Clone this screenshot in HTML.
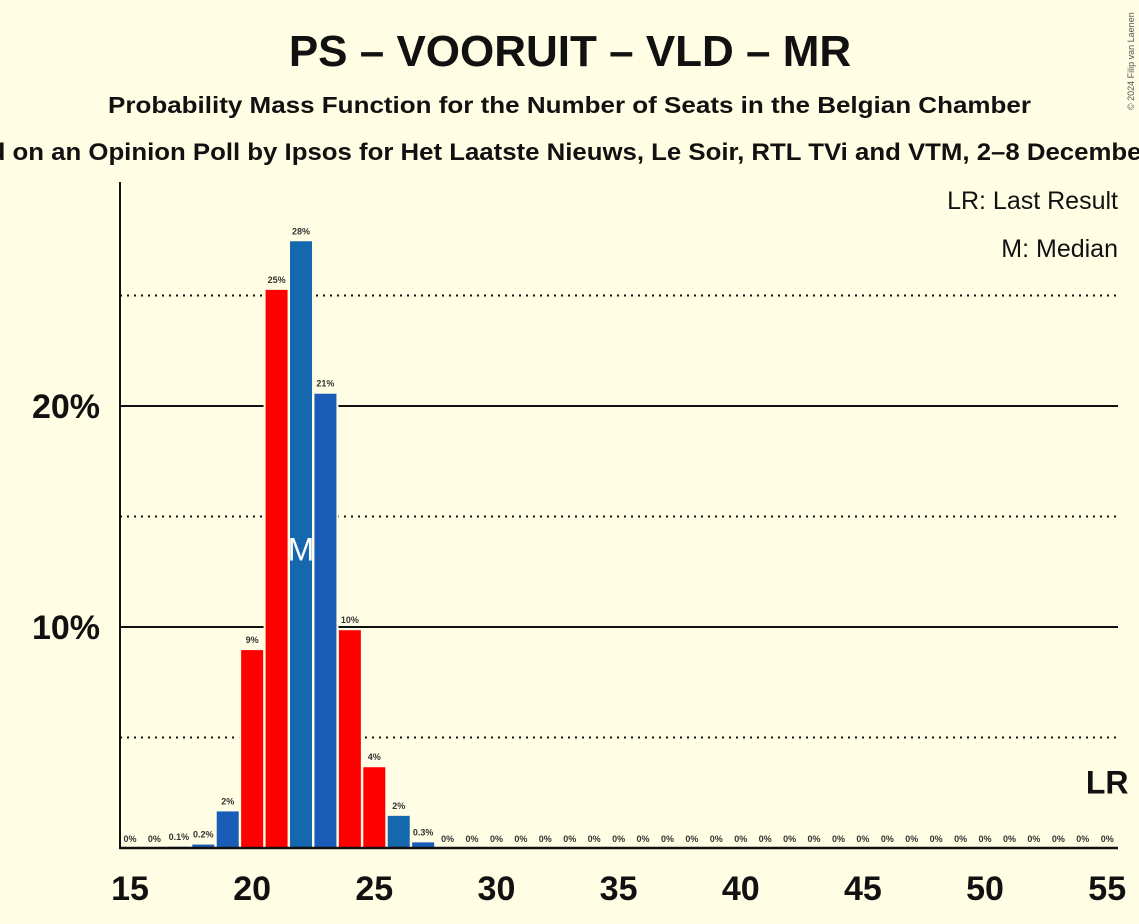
<!DOCTYPE html>
<html><head><meta charset="utf-8"><style>
body{margin:0;background:#FFFDE3;}
svg{display:block;font-family:"Liberation Sans",sans-serif;}
</style></head><body>
<svg width="1139" height="924" id="c">
<rect width="1139" height="924" fill="#FFFDE3"/>
<text x="570" y="66" text-anchor="middle" font-size="44" font-weight="bold" fill="#111">PS – VOORUIT – VLD – MR</text>
<text x="108" y="113" textLength="923" lengthAdjust="spacingAndGlyphs" font-size="23" font-weight="bold" fill="#111">Probability Mass Function for the Number of Seats in the Belgian Chamber</text>
<text x="-72" y="160" textLength="1288" lengthAdjust="spacingAndGlyphs" font-size="24" font-weight="bold" fill="#111">Based on an Opinion Poll by Ipsos for Het Laatste Nieuws, Le Soir, RTL TVi and VTM, 2–8 December 2024</text>
<text x="1134" y="110" font-size="9" fill="#555" transform="rotate(-90 1134 110)">© 2024 Filip van Laenen</text>
<text x="1118" y="209" text-anchor="end" font-size="25" fill="#111">LR: Last Result</text>
<text x="1118" y="257" text-anchor="end" font-size="25" fill="#111">M: Median</text>
<g id="grid"></g><g id="bars"></g><g id="axes"></g>
</svg>
<script>
const seats=[15,16,17,18,19,20,21,22,23,24,25,26,27,28,29,30,31,32,33,34,35,36,37,38,39,40,41,42,43,44,45,46,47,48,49,50,51,52,53,54,55];
const probs=[0,0,0.1,0.2,1.7,9.0,25.3,27.5,20.6,9.9,3.7,1.5,0.3,0,0,0,0,0,0,0,0,0,0,0,0,0,0,0,0,0,0,0,0,0,0,0,0,0,0,0,0];
const labels=["0%","0%","0.1%","0.2%","2%","9%","25%","28%","21%","10%","4%","2%","0.3%","0%","0%","0%","0%","0%","0%","0%","0%","0%","0%","0%","0%","0%","0%","0%","0%","0%","0%","0%","0%","0%","0%","0%","0%","0%","0%","0%","0%"];
const colors=["#1A5DB8","#1A5DB8","#1A5DB8","#1A5DB8","#1A5DB8","#FF0000","#FF0000","#1568AD","#1A5DB8","#FF0000","#FF0000","#1568AD","#1A5DB8"];
const xTicks=[15,20,25,30,35,40,45,50,55];
const yTicks=[10,20];
const yDotted=[5,15,25];
const median=22, lastResult=55;
const X=s=>130+(s-15)*24.43;
const Y=p=>848-p*22.1;
const NS="http://www.w3.org/2000/svg";
function mk(t,a,parent){const e=document.createElementNS(NS,t);for(const k in a)e.setAttribute(k,a[k]);document.getElementById(parent).appendChild(e);return e;}
yDotted.forEach(v=>{const l=mk('line',{x1:120,x2:1118,y1:Y(v),y2:Y(v),stroke:'#111','stroke-width':2,'stroke-dasharray':'2,5'},'grid');

});
yTicks.forEach(v=>{const l=mk('line',{x1:120,x2:1118,y1:Y(v),y2:Y(v),stroke:'#111','stroke-width':2},'grid');


const t=mk('text',{x:100,y:Y(v)+12,'text-anchor':'end','font-size':34,'font-weight':'bold',fill:'#111'},'axes');t.textContent=v+'%';

});
seats.forEach((s,i)=>{const p=probs[i];
if(p>0){const r=mk('rect',{x:X(s)-12,y:Y(p),width:24,height:848-Y(p),fill:colors[i]||'#1A5DB8',stroke:'#FFFDE3','stroke-width':2},'bars');

}
const t=mk('text',{x:X(s),y:Y(p)-6,'text-anchor':'middle','font-size':9,'font-weight':'bold',fill:'#333'},'bars');t.textContent=labels[i];


if(s===median){const m=mk('text',{x:X(s),y:Y(13),'text-anchor':'middle','font-size':32,fill:'#fff'},'bars');m.textContent='M';

}
});
const lr=mk('text',{x:X(lastResult),y:Y(3.0)+12,'text-anchor':'middle','font-size':32,'font-weight':'bold',fill:'#111'},'axes');lr.textContent='LR';


const ya=mk('line',{x1:120,x2:120,y1:182,y2:849,stroke:'#111','stroke-width':2},'axes');


const xa=mk('line',{x1:119,x2:1118,y1:848,y2:848,stroke:'#111','stroke-width':2.5},'axes');


xTicks.forEach(v=>{const t=mk('text',{x:X(v),y:900,'text-anchor':'middle','font-size':34,'font-weight':'bold',fill:'#111'},'axes');t.textContent=v;

});
</script>
</body></html>
